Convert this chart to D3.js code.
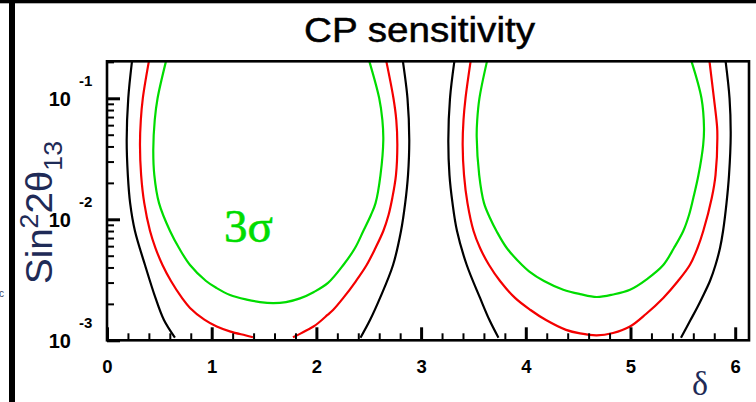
<!DOCTYPE html>
<html>
<head>
<meta charset="utf-8">
<script src="https://cdn.jsdelivr.net/npm/d3@7"></script>
<style>
  html, body { margin: 0; padding: 0; background: #fff; }
  svg { display: block; }
</style>
</head>
<body>
<svg id="chart" width="756" height="402"></svg>
<script>
// ---------------- data: [delta, sin^2 2theta13]; null = break where contour leaves the plot ----------------
const xMajorTicks = [0, 1, 2, 3, 4, 5, 6];
const xMinorTicks = [0.2,0.4,0.6,0.8,1.2,1.4,1.6,1.8,2.2,2.4,2.6,2.8,3.2,3.4,3.6,3.8,4.2,4.4,4.6,4.8,5.2,5.4,5.6,5.8];
const yMajorTicks = [1e-3, 1e-2, 1e-1];
const yTickExponents = ["-3", "-2", "-1"];
const yMinorTicks = [2e-3,3e-3,4e-3,5e-3,6e-3,7e-3,8e-3,9e-3,2e-2,3e-2,4e-2,5e-2,6e-2,7e-2,8e-2,9e-2,2e-1];

const green1 = [[0.562,0.2],[0.483,0.1],[0.456,0.0662],[0.442,0.0374],[0.452,0.0232],[0.497,0.0136],[0.602,0.008],
  [0.688,0.00579],[0.793,0.00419],[0.946,0.00309],[1.048,0.0027],[1.175,0.00237],[1.334,0.00217],[1.461,0.00207],
  [1.588,0.00203],[1.71,0.00207],[1.843,0.00222],[1.977,0.00251],[2.111,0.00298],[2.257,0.00419],[2.369,0.00579],
  [2.448,0.008],[2.521,0.01085],[2.565,0.0136],[2.612,0.0232],[2.639,0.0452],[2.63,0.0662],[2.6,0.1],[2.507,0.2]];
const green2 = [[3.628,0.2],[3.557,0.1],[3.536,0.0662],[3.531,0.0479],[3.555,0.0232],[3.601,0.0136],[3.658,0.01025],
  [3.72,0.008],[3.818,0.00579],[3.964,0.00419],[4.031,0.00372],[4.174,0.00309],[4.358,0.00262],[4.518,0.00241],
  [4.677,0.00228],[4.833,0.00239],[4.995,0.00262],[5.158,0.00321],[5.313,0.00419],[5.415,0.00579],[5.504,0.008],
  [5.559,0.01085],[5.6,0.015],[5.649,0.0232],[5.694,0.0411],[5.702,0.0568],[5.678,0.1],[5.584,0.2]];
const red1 = [[0.399,0.2],[0.342,0.1],[0.323,0.0662],[0.315,0.0411],[0.326,0.0232],[0.356,0.0136],[0.411,0.008],
  [0.463,0.00579],[0.53,0.00419],[0.611,0.00309],[0.716,0.00224],[0.793,0.00185],[0.93,0.00148],[1.048,0.0013],
  [1.18,0.00118],[1.32,0.0011],[1.394,0.00106], null,
  [1.776,0.00106],[1.843,0.00113],[1.915,0.00122],[1.972,0.0013],[2.018,0.00139],[2.106,0.00162],[2.159,0.00178],
  [2.257,0.00224],[2.378,0.00309],[2.48,0.00419],[2.564,0.00579],[2.639,0.008],[2.689,0.01085],[2.725,0.015],
  [2.76,0.0232],[2.773,0.0411],[2.763,0.0662],[2.736,0.1],[2.669,0.2]];
const red2 = [[3.472,0.2],[3.424,0.1],[3.405,0.0662],[3.397,0.0411],[3.41,0.0232],[3.443,0.0136],[3.501,0.008],
  [3.563,0.00579],[3.649,0.00419],[3.754,0.00309],[3.897,0.00224],[4.045,0.00178],[4.193,0.00147],[4.384,0.00122],
  [4.518,0.00114],[4.677,0.0011],[4.833,0.00115],[4.995,0.0013],[5.148,0.00165],[5.313,0.00224],[5.454,0.00309],
  [5.568,0.00421],[5.64,0.00579],[5.695,0.008],[5.776,0.015],[5.812,0.0232],[5.829,0.0537],[5.821,0.0662],
  [5.797,0.1],[5.755,0.2]];
const black1 = [[0.238,0.2],[0.203,0.1],[0.188,0.0452],[0.199,0.0232],[0.221,0.0136],[0.267,0.008],[0.363,0.00419],
  [0.463,0.00224],[0.544,0.00147],[0.649,0.00105], null,
  [2.421,0.00105],[2.512,0.00147],[2.608,0.00224],[2.732,0.00419],[2.808,0.008],[2.848,0.0136],[2.875,0.0232],
  [2.887,0.0452],[2.87,0.1],[2.827,0.2]];
const black2 = [[3.317,0.2],[3.276,0.1],[3.26,0.0452],[3.271,0.0232],[3.3,0.0136],[3.343,0.008],[3.436,0.00419],
  [3.563,0.00224],[3.653,0.00147],[3.739,0.00105], null,
  [5.482,0.00105],[5.573,0.00147],[5.635,0.00185],[5.683,0.00224],[5.759,0.00309],[5.812,0.00419],[5.855,0.00579],
  [5.884,0.008],[5.917,0.0136],[5.941,0.0232],[5.957,0.0497],[5.946,0.1],[5.909,0.2]];

const contours = [
  { pts: black1, color: "#000000" }, { pts: black2, color: "#000000" },
  { pts: red1, color: "#f40000" },   { pts: red2, color: "#f40000" },
  { pts: green1, color: "#00dc00" }, { pts: green2, color: "#00dc00" }
];

// ---------------- layout ----------------
const L = 107, R = 749, T = 61.3, B = 340.3;
const pxPerUnit = 104.7, pxPerDecade = 121;
const x = d3.scaleLinear().domain([0, (R - L) / pxPerUnit]).range([L, R]);
const y = d3.scaleLog().domain([1e-3, Math.pow(10, -3 + (B - T) / pxPerDecade)]).range([B, T]);

const svg = d3.select("#chart");
svg.append("rect").attr("width", 756).attr("height", 402).attr("fill", "#fff");

// outer decorations
svg.append("rect").attr("x", 0).attr("y", 0).attr("width", 756).attr("height", 3.3).attr("fill", "#000");
svg.append("rect").attr("x", 9).attr("y", 0).attr("width", 6).attr("height", 402).attr("fill", "#000");
svg.append("text").attr("x", -1).attr("y", 297).attr("font-family", "Liberation Sans, Arial, sans-serif")
  .attr("font-size", 10).attr("fill", "#3a4466").text("c");

// clip
svg.append("defs").append("clipPath").attr("id", "plotclip")
  .append("rect").attr("x", L).attr("y", T).attr("width", R - L).attr("height", B - T);

// contours
const line = d3.line().defined(d => d !== null)
  .x(d => x(d[0])).y(d => y(d[1])).curve(d3.curveCatmullRom.alpha(0.5));
const cg = svg.append("g").attr("clip-path", "url(#plotclip)");
contours.forEach(c => {
  cg.append("path").attr("d", line(c.pts)).attr("fill", "none")
    .attr("stroke", c.color).attr("stroke-width", 2.2).attr("stroke-linejoin", "round");
});

// axes ticks (inward)
function styleAxis(g, w) {
  g.select(".domain").remove();
  g.selectAll(".tick line").attr("stroke", "#000").attr("stroke-width", w);
}
svg.append("g").attr("transform", `translate(0,${B})`)
  .call(d3.axisBottom(x).tickValues(xMinorTicks).tickSize(-7).tickFormat(""))
  .call(g => styleAxis(g, 2));
const xMaj = svg.append("g").attr("transform", `translate(0,${B})`)
  .call(d3.axisBottom(x).tickValues(xMajorTicks).tickSize(-13).tickPadding(19.5).tickFormat(d3.format("d")))
  .call(g => styleAxis(g, 3));
xMaj.selectAll(".tick text").attr("font-family", "Liberation Sans, Arial, sans-serif")
  .attr("font-weight", "bold").attr("font-size", 18.5).attr("fill", "#000");

svg.append("g").attr("transform", `translate(${L},0)`)
  .call(d3.axisLeft(y).tickValues(yMinorTicks).tickSize(-7).tickFormat(""))
  .call(g => styleAxis(g, 2));
svg.append("g").attr("transform", `translate(${L},0)`)
  .call(d3.axisLeft(y).tickValues(yMajorTicks).tickSize(-13).tickFormat(""))
  .call(g => styleAxis(g, 3));

// y tick labels 10^-n
const yl = svg.append("g").attr("font-family", "Liberation Sans, Arial, sans-serif")
  .attr("font-weight", "bold").attr("fill", "#000");
yMajorTicks.forEach((v, i) => {
  yl.append("text").attr("x", 71).attr("y", y(v) + 7.5).attr("text-anchor", "end")
    .attr("font-size", 20).text("10");
  yl.append("text").attr("x", 79).attr("y", y(v) - 12.5).attr("text-anchor", "start")
    .attr("font-size", 15).text(yTickExponents[i]);
});

// frame
svg.append("rect").attr("x", L).attr("y", T).attr("width", R - L).attr("height", B - T)
  .attr("fill", "none").attr("stroke", "#000").attr("stroke-width", 2.6);

// title
svg.append("text").attr("x", 304).attr("y", 42).attr("font-family", "Liberation Sans, Arial, sans-serif")
  .attr("font-size", 35).attr("fill", "#000").attr("stroke", "#000").attr("stroke-width", 0.5)
  .attr("textLength", 231).attr("lengthAdjust", "spacingAndGlyphs").text("CP sensitivity");

// y axis title
const yt = svg.append("text").attr("transform", "translate(52,284) rotate(-90)")
  .attr("font-family", "Liberation Sans, Arial, sans-serif").attr("font-size", 36).attr("fill", "#1f2b57")
  .attr("textLength", 143).attr("lengthAdjust", "spacingAndGlyphs");
yt.append("tspan").text("Sin");
yt.append("tspan").attr("font-size", 25).attr("dy", -14).text("2");
yt.append("tspan").attr("dy", 14).text("2θ");
yt.append("tspan").attr("font-size", 25).attr("dy", 10).text("13");

// x axis title
svg.append("text").attr("x", 692).attr("y", 395).attr("font-family", "Liberation Serif, Times New Roman, serif")
  .attr("font-size", 34).attr("fill", "#1f2b57").text("δ");

// 3 sigma label
svg.append("text").attr("x", 224).attr("y", 242).attr("font-family", "Liberation Serif, Times New Roman, serif")
  .attr("font-size", 47).attr("fill", "#00dc00").attr("stroke", "#00dc00").attr("stroke-width", 0.6).text("3σ");
</script>
</body>
</html>
